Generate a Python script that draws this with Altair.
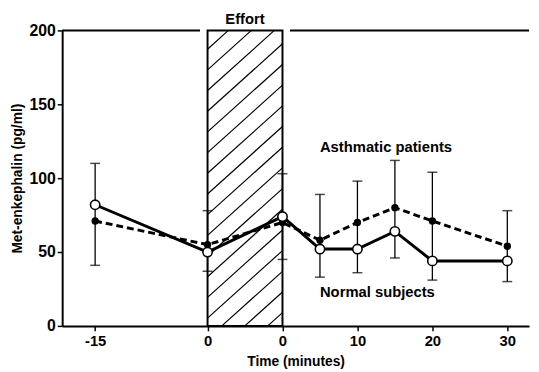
import altair as alt
import pandas as pd

# ---- data ----
time_min = [-15, 0, 0, 5, 10, 15, 20, 30]          # minutes
after_effort = [False, False, True, True, True, True, True, True]
normal = [82, 50, 74, 52, 52, 64, 44, 44]            # open circles
asthma = [71, 55, 70, 58, 70, 80, 71, 54]            # filled circles
err_high = [110, 78, 103, 89, 98, 112, 104, 78]
err_low = [41, 37, 45, 33, 36, 46, 31, 30]

EFFORT_LEN = 10   # width of the effort period on the time axis (minutes)
X_DOMAIN = [-19.4, 42.9]
Y_DOMAIN = [0, 200]
W, H = 474, 300
FONT = "Liberation Sans"

pos = [t + (EFFORT_LEN if a else 0) for t, a in zip(time_min, after_effort)]
df = pd.DataFrame({"pos": pos, "normal": normal, "asthma": asthma,
                   "hi": err_high, "lo": err_low})

xs = alt.Scale(domain=X_DOMAIN, nice=False, zero=False)
ys = alt.Scale(domain=Y_DOMAIN, nice=False)

x_axis = alt.Axis(values=[-15, 0, 10, 20, 30, 40],
                  labelExpr="datum.value == 10 ? '0' : (datum.value > 10 ? toString(datum.value - 10) : toString(datum.value))",
                  title="Time (minutes)", grid=False, tickSize=5, tickWidth=1.5,
                  domainWidth=2, domainColor="black", tickColor="black",
                  labelFont=FONT, labelFontSize=15, labelFontWeight="bold", labelColor="black",
                  labelPadding=3, titleFont=FONT, titleFontSize=14, titleFontWeight="bold",
                  titleColor="black", titlePadding=6)
y_axis = alt.Axis(values=[0, 50, 100, 150, 200], title="Met-enkephalin (pg/ml)", grid=False,
                  tickSize=5, tickWidth=1.5, domainWidth=2, domainColor="black", tickColor="black",
                  labelFont=FONT, labelFontSize=16, labelFontWeight="bold", labelColor="black",
                  labelPadding=2, titleFont=FONT, titleFontSize=14, titleFontWeight="bold",
                  titleColor="black", titlePadding=5)

# ---- hatch lines of the effort box (derived from box bounds) ----
kx = W / (X_DOMAIN[1] - X_DOMAIN[0])
ky = H / (Y_DOMAIN[1] - Y_DOMAIN[0])
slope = 0.9 * kx / ky
spacing = 21 / ky
offset = 5.3
hatch = []
k = -int(EFFORT_LEN * slope / spacing) - 2
while True:
    yl = offset + spacing * k
    if yl > Y_DOMAIN[1]:
        break
    xa = max(0.0, (Y_DOMAIN[0] - yl) / slope)
    xb = min(float(EFFORT_LEN), (Y_DOMAIN[1] - yl) / slope)
    if xa < xb:
        hatch.append({"x": xa, "x2": xb, "y": yl + slope * xa, "y2": yl + slope * xb})
    k += 1
hatch_df = pd.DataFrame(hatch)

box_df = pd.DataFrame({"x": [0], "x2": [EFFORT_LEN], "y": [Y_DOMAIN[0]], "y2": [Y_DOMAIN[1]]})
top_df = pd.DataFrame({"x": [X_DOMAIN[0], EFFORT_LEN + 1], "x2": [-1, X_DOMAIN[1]],
                       "y": [Y_DOMAIN[1]] * 2})

hatch_layer = alt.Chart(hatch_df).mark_rule(color="black", strokeWidth=1.2).encode(
    x=alt.X("x:Q", scale=xs, axis=x_axis), x2="x2:Q",
    y=alt.Y("y:Q", scale=ys, axis=y_axis), y2="y2:Q")
box_layer = alt.Chart(box_df).mark_rect(fill=None, fillOpacity=0, stroke="black", strokeWidth=2).encode(
    x=alt.X("x:Q", scale=xs), x2="x2:Q", y=alt.Y("y:Q", scale=ys), y2="y2:Q")
top_layer = alt.Chart(top_df).mark_rule(color="black", strokeWidth=2).encode(
    x=alt.X("x:Q", scale=xs), x2="x2:Q", y=alt.Y("y:Q", scale=ys))

base = alt.Chart(df)
X = alt.X("pos:Q", scale=xs)
err = base.mark_rule(color="black", strokeWidth=1.3).encode(x=X, y=alt.Y("lo:Q", scale=ys), y2="hi:Q")
cap_hi = base.mark_tick(orient="horizontal", size=10, thickness=1.5, color="black").encode(
    x=X, y=alt.Y("hi:Q", scale=ys))
cap_lo = base.mark_tick(orient="horizontal", size=10, thickness=1.5, color="black").encode(
    x=X, y=alt.Y("lo:Q", scale=ys))
line_a = base.mark_line(color="black", strokeWidth=3, strokeDash=[7, 4]).encode(
    x=X, y=alt.Y("asthma:Q", scale=ys))
line_n = base.mark_line(color="black", strokeWidth=3).encode(x=X, y=alt.Y("normal:Q", scale=ys))
pts_a = base.mark_point(shape="circle", filled=True, color="black", size=55, opacity=1).encode(
    x=X, y=alt.Y("asthma:Q", scale=ys))
pts_n = base.mark_point(shape="circle", filled=True, fill="white", stroke="black", strokeWidth=1.6,
                        size=90, opacity=1).encode(x=X, y=alt.Y("normal:Q", scale=ys))

labels_df = pd.DataFrame({"x": [EFFORT_LEN / 2, 15, 15], "y": [208, 121, 23],
                          "t": ["Effort", "Asthmatic patients", "Normal subjects"]})
txt_center = alt.Chart(labels_df.iloc[[0]]).mark_text(font=FONT, fontSize=15, fontWeight="bold",
                                                     color="black", align="center", baseline="middle").encode(
    x=alt.X("x:Q", scale=xs), y=alt.Y("y:Q", scale=ys), text="t:N")
txt_left = alt.Chart(labels_df.iloc[1:]).mark_text(font=FONT, fontSize=15, fontWeight="bold",
                                                  color="black", align="left", baseline="middle").encode(
    x=alt.X("x:Q", scale=xs), y=alt.Y("y:Q", scale=ys), text="t:N")

chart = alt.layer(hatch_layer, box_layer, top_layer, err, cap_hi, cap_lo, line_a, line_n,
                  pts_a, pts_n, txt_center, txt_left).properties(
    width=W, height=H, autosize=alt.AutoSizeParams(type="none"),
    padding={"left": 55, "top": 20, "right": 2, "bottom": 42},
    background="white"
).configure_view(stroke=None)

chart.save("out.html", embed_options={"renderer": "svg", "actions": False})
